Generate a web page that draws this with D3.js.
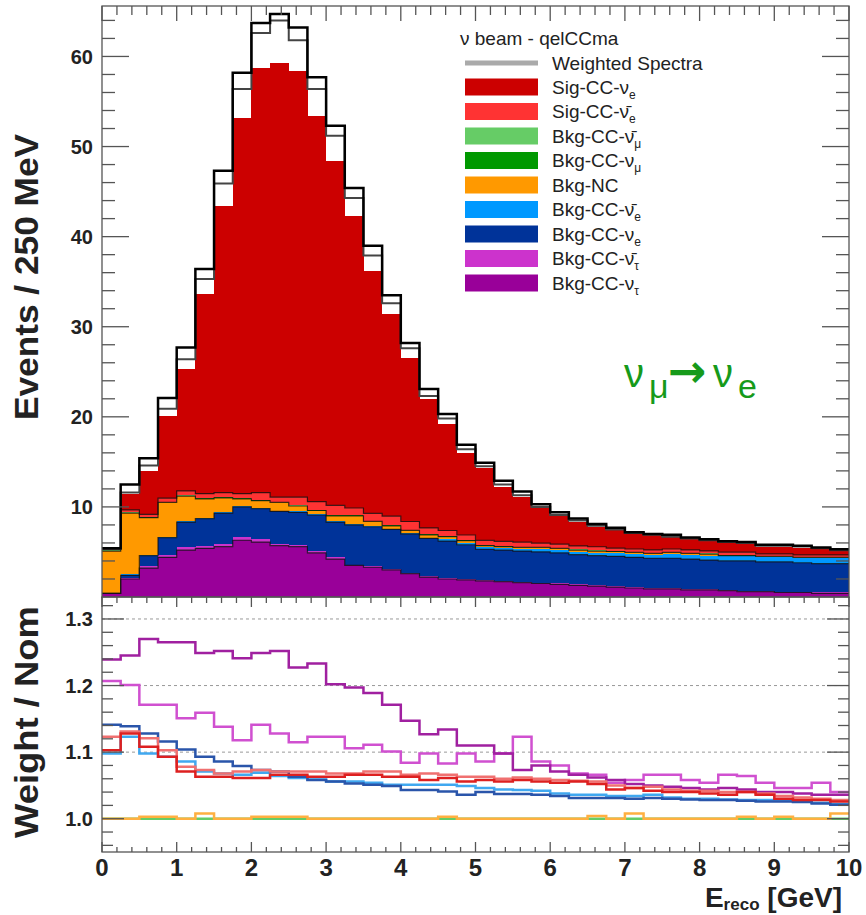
<!DOCTYPE html>
<html><head><meta charset="utf-8">
<script src="https://cdn.jsdelivr.net/npm/d3@7"></script>
<style>body{margin:0;background:#fff}svg{display:block}</style>
</head><body>
<svg id="c" width="866" height="915"></svg>
<script>
// ---------- DATA ----------
const binLow=[0,0.25,0.5,0.75,1,1.25,1.5,1.75,2,2.25,2.5,2.75,3,3.25,3.5,3.75,4,4.25,4.5,4.75,5,5.25,5.5,5.75,6,6.25,6.5,6.75,7,7.25,7.5,7.75,8,8.25,8.5,8.75,9,9.25,9.5,9.75];
const binWidth=0.25;

// stacked components (events / 250 MeV), bottom -> top
const bkgNutau   =[0.4,2.0,3.2,4.4,5.2,5.4,5.6,6.3,6.1,5.7,5.6,4.9,4.2,3.5,3.3,3.0,2.6,2.2,2.0,1.9,1.8,1.7,1.6,1.5,1.4,1.3,1.2,1.1,1.0,0.9,0.9,0.8,0.8,0.7,0.6,0.6,0.5,0.5,0.4,0.4];
const bkgNutaubar=[0.0,0.1,0.2,0.3,0.3,0.3,0.3,0.4,0.3,0.2,0.2,0.2,0.2,0.1,0.1,0.1,0.1,0.1,0.1,0.1,0.1,0.1,0.1,0.1,0.1,0.1,0.1,0.1,0.1,0.1,0.1,0.1,0.1,0.1,0.1,0.1,0.1,0.1,0.1,0.1];
const bkgNue     =[0.0,0.3,1.2,1.9,2.8,3.0,3.4,3.3,3.4,3.6,3.6,4.0,3.9,4.4,4.4,4.4,4.3,4.2,4.1,3.8,3.4,3.4,3.4,3.4,3.4,3.3,3.3,3.3,3.3,3.3,3.3,3.3,3.2,3.2,3.3,3.2,3.3,3.2,3.2,3.2];
const bkgNuebar  =[0.0,0.1,0.1,0.1,0.1,0.1,0.1,0.1,0.1,0.1,0.1,0.1,0.1,0.1,0.1,0.1,0.1,0.1,0.2,0.2,0.2,0.2,0.2,0.3,0.3,0.3,0.3,0.4,0.4,0.4,0.5,0.5,0.5,0.5,0.5,0.5,0.5,0.5,0.6,0.6];
const bkgNC      =[4.7,6.8,4.1,3.8,2.8,2.1,1.6,0.8,0.8,0.9,0.6,0.4,0.6,0.9,0.5,0.3,0.3,0.3,0.3,0.25,0.2,0.2,0.2,0.2,0.2,0.2,0.2,0.15,0.15,0.15,0.15,0.15,0.15,0.1,0.1,0.1,0.1,0.1,0.1,0.1];
const bkgNumu    =[0.05,0.05,0.05,0.05,0.05,0.05,0.05,0.05,0.05,0.05,0.05,0.05,0.05,0.05,0.05,0.05,0.05,0.05,0.05,0.05,0.05,0.05,0.05,0.05,0.05,0.05,0.05,0.05,0.05,0.05,0.05,0.05,0.05,0.05,0.05,0.05,0.05,0.05,0.05,0.05];
const bkgNumubar =[0.03,0.03,0.03,0.03,0.03,0.03,0.03,0.03,0.03,0.03,0.03,0.03,0.03,0.03,0.03,0.03,0.03,0.03,0.03,0.03,0.03,0.03,0.03,0.03,0.03,0.03,0.03,0.03,0.03,0.03,0.03,0.03,0.03,0.03,0.03,0.03,0.03,0.03,0.03,0.03];
const sigNuebar  =[0.1,0.3,0.3,0.4,0.5,0.5,0.5,0.5,0.8,0.5,0.9,0.9,1.1,0.8,0.8,1.0,0.9,0.7,0.6,0.55,0.5,0.5,0.5,0.4,0.4,0.4,0.4,0.3,0.3,0.3,0.3,0.3,0.3,0.3,0.3,0.2,0.2,0.2,0.2,0.2];
const sigNue     =[0.1,1.7,4.8,9.1,13.5,22.2,31.8,41.7,47.1,48.2,47.3,42.8,38.2,32.4,26.9,22.4,18.2,14.3,11.8,9.1,8.0,6.0,5.0,3.9,3.2,2.6,2.2,2.0,1.7,1.6,1.3,1.2,1.1,1.0,0.9,0.8,0.8,0.8,0.6,0.5];

// weighted-spectra outlines
const weightedOuter=[5.4,12.5,15.4,22.1,27.7,36.4,47.3,58.2,63.7,64.7,63.2,57.7,52.3,45.4,39.0,33.5,28.2,23.1,20.3,16.9,14.9,12.9,11.7,10.3,9.4,8.7,8.1,7.7,7.2,7.0,6.9,6.6,6.4,6.2,6.1,5.8,5.8,5.7,5.5,5.3];
const weightedInner=[5.35,11.6,14.6,20.9,26.4,35.3,45.9,56.4,62.6,64.0,61.8,56.4,51.2,44.3,37.9,32.6,27.6,22.3,19.8,16.4,14.5,12.5,11.3,10.0,9.1,8.5,7.9,7.5,7.1,6.9,6.7,6.5,6.3,6.1,6.0,5.7,5.7,5.6,5.4,5.2];

// ratios weight / nominal
const ratioNutau    =[1.239,1.245,1.270,1.265,1.265,1.249,1.252,1.241,1.249,1.252,1.227,1.233,1.202,1.197,1.189,1.171,1.147,1.127,1.134,1.110,1.110,1.098,1.073,1.080,1.071,1.066,1.062,1.058,1.052,1.050,1.048,1.046,1.044,1.046,1.044,1.040,1.040,1.038,1.036,1.036];
const ratioNutaubar =[1.207,1.201,1.171,1.171,1.151,1.159,1.138,1.118,1.141,1.128,1.115,1.123,1.123,1.106,1.111,1.101,1.084,1.098,1.083,1.098,1.086,1.098,1.123,1.086,1.080,1.068,1.066,1.054,1.058,1.066,1.066,1.058,1.054,1.066,1.064,1.054,1.046,1.046,1.054,1.040];
const ratioNue      =[1.141,1.139,1.128,1.116,1.104,1.093,1.086,1.079,1.073,1.071,1.063,1.058,1.056,1.053,1.051,1.049,1.043,1.043,1.041,1.036,1.040,1.037,1.037,1.036,1.034,1.031,1.031,1.031,1.030,1.031,1.030,1.029,1.028,1.028,1.027,1.026,1.026,1.025,1.023,1.021];
const ratioNuebar   =[1.098,1.123,1.098,1.093,1.086,1.071,1.068,1.066,1.069,1.064,1.061,1.059,1.056,1.056,1.054,1.051,1.051,1.051,1.051,1.049,1.046,1.044,1.043,1.042,1.038,1.036,1.036,1.034,1.034,1.036,1.032,1.030,1.030,1.029,1.028,1.028,1.027,1.026,1.024,1.022];
const ratioSigNue   =[1.103,1.128,1.108,1.093,1.071,1.063,1.063,1.061,1.061,1.066,1.066,1.063,1.063,1.066,1.066,1.063,1.063,1.058,1.061,1.056,1.058,1.056,1.058,1.056,1.054,1.056,1.052,1.044,1.046,1.042,1.040,1.040,1.038,1.036,1.040,1.036,1.030,1.028,1.028,1.026];
const ratioSigNuebar=[1.123,1.131,1.121,1.103,1.078,1.073,1.068,1.071,1.073,1.071,1.071,1.071,1.068,1.068,1.071,1.071,1.066,1.068,1.066,1.063,1.063,1.060,1.062,1.060,1.058,1.057,1.056,1.050,1.046,1.048,1.044,1.042,1.042,1.040,1.040,1.038,1.034,1.032,1.030,1.028];
const ratioNumu     =[1,1,1,1,1,1,1,1,1,1,1,1,1,1,1,1,1,1,1,1,1,1,1,1,1,1,1,1,1,1,1,1,1,1,1,1,1,1,1,1];
const ratioNC       =[1,1,1.003,1.003,1,1.008,1,1,1.003,1.003,1.003,1,1,1,1,1,1,1,1.003,1,1,1,1,1,1,1,1.004,1,1.008,1,1,1,1,1,1.003,1,1.003,1,1,1.008];

const upperTicks=[10,20,30,40,50,60];
const lowerTicks=[1.0,1.1,1.2,1.3];
const xTicks=[0,1,2,3,4,5,6,7,8,9,10];

// ---------- LAYOUT ----------
const svg=d3.select("#c");
const X0=102,X1=849,UT=6,MID=597,LB=852;
const x=d3.scaleLinear().domain([0,10]).range([X0,X1]);
const yU=d3.scaleLinear().domain([0,65.6]).range([MID,UT]);
const yL=d3.scaleLinear().domain([0.95,1.333]).range([LB,MID]);
const FONT="'Liberation Sans', Arial, Helvetica, sans-serif";

const layers=[
 {key:"nutau",vals:bkgNutau,color:"#990099"},
 {key:"nutaubar",vals:bkgNutaubar,color:"#cc33cc"},
 {key:"nue",vals:bkgNue,color:"#003399"},
 {key:"nuebar",vals:bkgNuebar,color:"#0099ff"},
 {key:"nc",vals:bkgNC,color:"#ff9900"},
 {key:"numu",vals:bkgNumu,color:"#009900"},
 {key:"numubar",vals:bkgNumubar,color:"#66cc66"},
 {key:"signuebar",vals:sigNuebar,color:"#ff3333"},
 {key:"signue",vals:sigNue,color:"#cc0000"}
];
const table=binLow.map((b,i)=>{const o={lo:b};layers.forEach(l=>o[l.key]=l.vals[i]);return o;});
const series=d3.stack().keys(layers.map(l=>l.key))(table);

svg.append("defs").append("clipPath").attr("id","cu").append("rect")
  .attr("x",X0).attr("y",UT).attr("width",X1-X0).attr("height",MID-UT);
svg.select("defs").append("clipPath").attr("id","cl").append("rect")
  .attr("x",X0).attr("y",MID).attr("width",X1-X0).attr("height",LB-MID);

const up=svg.append("g").attr("clip-path","url(#cu)");
series.forEach((s,k)=>{
  up.append("g").selectAll("rect").data(s).join("rect")
    .attr("x",d=>x(d.data.lo)).attr("width",d=>x(d.data.lo+binWidth)-x(d.data.lo)+0.3)
    .attr("y",d=>yU(d[1])).attr("height",d=>Math.max(0,yU(d[0])-yU(d[1])))
    .attr("fill",layers[k].color).attr("shape-rendering","crispEdges");
});
function stepPts(vals,ys){
  const p=[];
  vals.forEach((v,i)=>{p.push([x(binLow[i]),ys(v)]);p.push([x(binLow[i]+binWidth),ys(v)]);});
  return p;
}
const line=d3.line();
[0,2,4,7].forEach(k=>{
  up.append("path").attr("d",line(stepPts(series[k].map(d=>d[1]),yU)))
    .attr("fill","none").attr("stroke","#111").attr("stroke-width",1.2).attr("stroke-opacity",0.8);
});
up.append("path").attr("d",line(stepPts(weightedInner,yU)))
  .attr("fill","none").attr("stroke","#444").attr("stroke-width",2);
up.append("path").attr("d",line(stepPts(weightedOuter,yU)))
  .attr("fill","none").attr("stroke","#000").attr("stroke-width",2.5);

// ---------- lower panel ----------
const lo=svg.append("g").attr("clip-path","url(#cl)");
[1.0,1.1,1.2,1.3].forEach(v=>{
  lo.append("line").attr("x1",X0).attr("x2",X1).attr("y1",yL(v)).attr("y2",yL(v))
    .attr("stroke","#999").attr("stroke-width",1).attr("stroke-dasharray","3,3");
});
const ratioLines=[
 {vals:ratioNutaubar,color:"#d050d0"},
 {vals:ratioNutau,color:"#a020a0"},
 {vals:ratioNuebar,color:"#40a8f0"},
 {vals:ratioNue,color:"#2a55aa"},
 {vals:ratioSigNuebar,color:"#f07070"},
 {vals:ratioSigNue,color:"#dd2020"},
 {vals:ratioNumu,color:"#66cc66"},
 {vals:ratioNC,color:"#ffb040"}
];
ratioLines.forEach(r=>{
  lo.append("path").attr("d",line(stepPts(r.vals,yL)))
    .attr("fill","none").attr("stroke",r.color).attr("stroke-width",2.5);
});

// ---------- frames & ticks ----------
const ax=svg.append("g").attr("stroke","#555").attr("stroke-width",1.3);
ax.append("rect").attr("x",X0).attr("y",UT).attr("width",X1-X0).attr("height",MID-UT).attr("fill","none");
ax.append("rect").attr("x",X0).attr("y",MID).attr("width",X1-X0).attr("height",LB-MID).attr("fill","none");
function hTicks(vals,ys,len){
  vals.forEach(v=>{
    ax.append("line").attr("x1",X0).attr("x2",X0+len).attr("y1",ys(v)).attr("y2",ys(v));
    ax.append("line").attr("x1",X1).attr("x2",X1-len).attr("y1",ys(v)).attr("y2",ys(v));
  });
}
function vTicks(vals,y0,dir,len){
  vals.forEach(v=>{
    ax.append("line").attr("x1",x(v)).attr("x2",x(v)).attr("y1",y0).attr("y2",y0+dir*len);
  });
}
const upMinor=d3.range(2,66,2).filter(v=>v%10!==0);
hTicks(upperTicks,yU,27);
hTicks(upMinor,yU,13);
const xMinor=d3.range(0,10.01,0.2).filter(v=>Math.abs(v-Math.round(v))>0.01);
vTicks(xTicks,UT,1,15); vTicks(xMinor,UT,1,9);
vTicks(xTicks,MID,1,10); vTicks(xMinor,MID,1,6);
vTicks(xTicks,LB,-1,10); vTicks(xMinor,LB,-1,5);
hTicks(lowerTicks,yL,22);
const loMinor=[0.96,0.98,1.02,1.04,1.06,1.08,1.12,1.14,1.16,1.18,1.22,1.24,1.26,1.28,1.32];
hTicks(loMinor,yL,11);

// ---------- labels ----------
const tl=svg.append("g").attr("font-family",FONT).attr("font-weight","bold").attr("fill","#222");
upperTicks.forEach(v=>tl.append("text").attr("x",93).attr("y",yU(v)).attr("dy","0.36em")
  .attr("text-anchor","end").attr("font-size",20).text(v));
lowerTicks.forEach(v=>tl.append("text").attr("x",93).attr("y",yL(v)).attr("dy","0.36em")
  .attr("text-anchor","end").attr("font-size",20).text(v.toFixed(1)));
xTicks.forEach(v=>tl.append("text").attr("x",x(v)).attr("y",876)
  .attr("text-anchor","middle").attr("font-size",24).text(v));

tl.append("text").attr("transform","translate(38,277) rotate(-90)").attr("text-anchor","middle")
  .attr("font-size",33).attr("textLength",286).attr("lengthAdjust","spacingAndGlyphs").text("Events / 250 MeV");
tl.append("text").attr("transform","translate(38,722) rotate(-90)").attr("text-anchor","middle")
  .attr("font-size",33).attr("textLength",232).attr("lengthAdjust","spacingAndGlyphs").text("Weight / Nom");
const xt=tl.append("text").attr("x",842).attr("y",907).attr("text-anchor","end").attr("font-size",28);
xt.append("tspan").text("E");
xt.append("tspan").attr("font-size",17).attr("dy",3).text("reco");
xt.append("tspan").attr("dy",-3).text(" [GeV]");

// ---------- legend ----------
const lg=svg.append("g").attr("font-family",FONT).attr("fill","#222");
lg.append("text").attr("x",460).attr("y",38).attr("dy","0.35em").attr("font-size",19).text("ν beam - qelCCma");
lg.append("line").attr("x1",465).attr("x2",538).attr("y1",63).attr("y2",63).attr("stroke","#aaa").attr("stroke-width",5);
lg.append("text").attr("x",552).attr("y",63).attr("dy","0.35em").attr("font-size",19).text("Weighted Spectra");
const legendItems=[
 {pre:"Sig-CC-",nu:"ν",sub:"e",color:"#cc0000"},
 {pre:"Sig-CC-",nu:"ν̄",sub:"e",color:"#ff3333"},
 {pre:"Bkg-CC-",nu:"ν̄",sub:"μ",color:"#66cc66"},
 {pre:"Bkg-CC-",nu:"ν",sub:"μ",color:"#009900"},
 {pre:"Bkg-NC",nu:"",sub:"",color:"#ff9900"},
 {pre:"Bkg-CC-",nu:"ν̄",sub:"e",color:"#0099ff"},
 {pre:"Bkg-CC-",nu:"ν",sub:"e",color:"#003399"},
 {pre:"Bkg-CC-",nu:"ν̄",sub:"τ",color:"#cc33cc"},
 {pre:"Bkg-CC-",nu:"ν",sub:"τ",color:"#990099"}
];
legendItems.forEach((it,k)=>{
  const yc=87+k*24.5;
  lg.append("rect").attr("x",465).attr("y",yc-8.5).attr("width",73).attr("height",17).attr("fill",it.color);
  const t=lg.append("text").attr("x",552).attr("y",yc).attr("dy","0.35em").attr("font-size",19);
  t.append("tspan").text(it.pre+it.nu);
  if(it.sub) t.append("tspan").attr("font-size",12).attr("dy",5).text(it.sub);
});

// ---------- annotation ----------
const an=svg.append("text").attr("font-family",FONT).attr("fill","#169a1a").attr("y",387);
an.append("tspan").attr("x",624).attr("font-size",40).text("ν");
an.append("tspan").attr("x",649).attr("dy",11).attr("font-size",34).text("μ");
an.append("tspan").attr("x",668).attr("dy",-11).attr("font-size",46).attr("font-weight","bold").attr("font-family","'DejaVu Sans', sans-serif").text("→");
an.append("tspan").attr("x",713).attr("font-size",40).text("ν");
an.append("tspan").attr("x",738).attr("dy",11).attr("font-size",34).text("e");
</script>
</body></html>
